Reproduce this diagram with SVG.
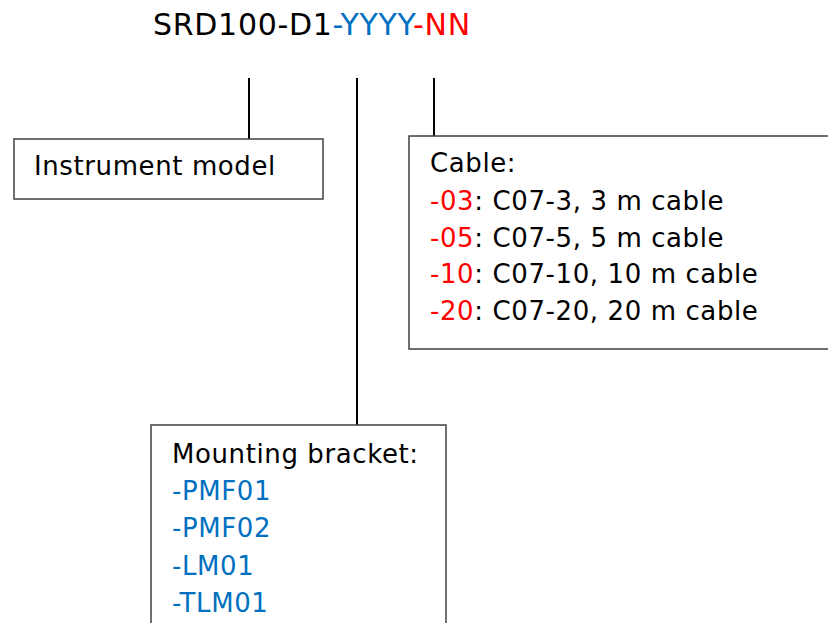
<svg xmlns="http://www.w3.org/2000/svg" width="828" height="623" viewBox="0 0 828 623">
<style>
text{font-family:"DejaVu Sans","Verdana",sans-serif;fill:#000}
.t{font-size:26px;letter-spacing:0.6px}
.h{font-size:30px;letter-spacing:0.7px}
.b{fill:#0070C0}
.r{fill:#FF0000}
.box{fill:#fff;stroke:#404040;stroke-width:1.5}
.ln{stroke:#000;stroke-width:2;fill:none}
</style>
<rect width="828" height="623" fill="#fff"/>
<g id="title"><text class="h" x="153" y="35">SRD100-D1<tspan class="b">-YYYY</tspan><tspan class="r">-NN</tspan></text></g>
<g id="connectors">
<line class="ln" x1="249" y1="78" x2="249" y2="139"/>
<line class="ln" x1="357" y1="78" x2="357" y2="425"/>
<line class="ln" x1="434" y1="78" x2="434" y2="137"/>
</g>
<g id="instrument">
<rect class="box" x="14" y="139" width="309" height="60"/>
<text class="t" x="34" y="175">Instrument model</text>
</g>
<g id="cable">
<rect class="box" x="409" y="136" width="430" height="213"/>
<text class="t" x="430" y="172">Cable:</text>
<text class="t" x="430" y="210"><tspan class="r">-03</tspan>: C07-3, 3 m cable</text>
<text class="t" x="430" y="247"><tspan class="r">-05</tspan>: C07-5, 5 m cable</text>
<text class="t" x="430" y="283"><tspan class="r">-10</tspan>: C07-10, 10 m cable</text>
<text class="t" x="430" y="320"><tspan class="r">-20</tspan>: C07-20, 20 m cable</text>
</g>
<g id="bracket">
<rect class="box" x="151" y="425" width="295" height="210"/>
<text class="t" x="172" y="463">Mounting bracket:</text>
<text class="t b" x="172" y="500">-PMF01</text>
<text class="t b" x="172" y="537">-PMF02</text>
<text class="t b" x="172" y="575">-LM01</text>
<text class="t b" x="172" y="612">-TLM01</text>
</g>
</svg>
